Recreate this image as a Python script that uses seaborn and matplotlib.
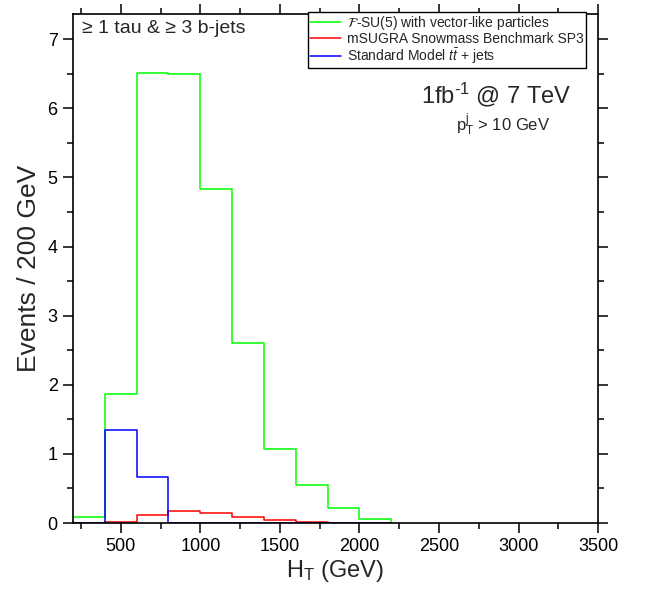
import numpy as np
import pandas as pd
import matplotlib
matplotlib.use("Agg")
import matplotlib.pyplot as plt
import seaborn as sns
from matplotlib.ticker import MultipleLocator

# bin edges in GeV (200 GeV bins)
bin_edges = [200, 400, 600, 800, 1000, 1200, 1400, 1600, 1800, 2000, 2200]

# events per bin
fsu5_events = [0.08, 1.87, 6.51, 6.49, 4.83, 2.61, 1.07, 0.55, 0.21, 0.06]
msugra_events = [0.0, 0.01, 0.12, 0.18, 0.14, 0.08, 0.04, 0.015, 0.005, 0.0]
sm_events = [0.0, 1.34, 0.67, 0.0, 0.0, 0.0, 0.0, 0.0, 0.0, 0.0]

labels = [
    r"$\mathcal{F}$-SU(5) with vector-like particles",
    "mSUGRA Snowmass Benchmark SP3",
    r"Standard Model $t\bar{t}$ + jets",
]
colors = ["#00ff00", "#ff0000", "#0000ff"]

sns.set_style("ticks")
plt.rcParams["font.family"] = ["Liberation Sans", "DejaVu Sans"]
plt.rcParams["mathtext.fontset"] = "custom"
plt.rcParams["mathtext.rm"] = "Liberation Sans"
plt.rcParams["mathtext.it"] = "Liberation Sans:italic"
plt.rcParams["mathtext.bf"] = "Liberation Sans:bold"

fig = plt.figure(figsize=(6.46, 5.95), dpi=100)
ax = fig.add_axes([0.113, 0.121, 0.813, 0.855])

for series, lab, col in zip([fsu5_events, msugra_events, sm_events], labels, colors):
    # add a closing zero so the step drops to the baseline at the last edge
    df = pd.DataFrame({"HT": bin_edges, "events": list(series) + [0.0]})
    sns.lineplot(data=df, x="HT", y="events", ax=ax, color=col, label=lab,
                 drawstyle="steps-post", linewidth=1.1, estimator=None, sort=False)

ax.set_xlim(200, 3500)
ax.set_ylim(0, 7.36)
ax.xaxis.set_major_locator(MultipleLocator(500))
ax.xaxis.set_minor_locator(MultipleLocator(250))
ax.yaxis.set_major_locator(MultipleLocator(1))
ax.yaxis.set_minor_locator(MultipleLocator(0.5))
ax.tick_params(which="both", direction="out", top=True, right=True,
               labelsize=13, width=1.1, colors="black")
ax.tick_params(which="major", length=7.5)
ax.tick_params(which="minor", length=4)
for sp in ax.spines.values():
    sp.set_visible(True)
    sp.set_linewidth(1.2)
    sp.set_color("black")

ax.set_xlabel(r"H$_{\rm T}$ (GeV)", fontsize=17, labelpad=2)
ax.set_ylabel("Events / 200 GeV", fontsize=19, labelpad=5)

ax.text(0.018, 0.988, "\u2265 1 tau & \u2265 3 b-jets", transform=ax.transAxes,
        fontsize=14, ha="left", va="top")
ax.text(0.95, 0.841, r"1fb$^{\text{-1}}$ @ 7 TeV", transform=ax.transAxes,
        fontsize=17, ha="right", va="center")
ax.text(0.909, 0.782, r"p$^{\rm j}_{\rm T}$ > 10 GeV", transform=ax.transAxes,
        fontsize=12, ha="right", va="center")

leg = ax.legend(loc="upper right", bbox_to_anchor=(0.976, 1.004), fontsize=10,
                frameon=True, fancybox=False, edgecolor="black", framealpha=1,
                borderaxespad=0, labelspacing=0.0, handlelength=2.2,
                handletextpad=0.45, borderpad=0.15)
leg.get_frame().set_linewidth(1.0)
leg.get_texts()[0].set_math_fontfamily("stix")

fig.savefig("out.png", dpi=100)
